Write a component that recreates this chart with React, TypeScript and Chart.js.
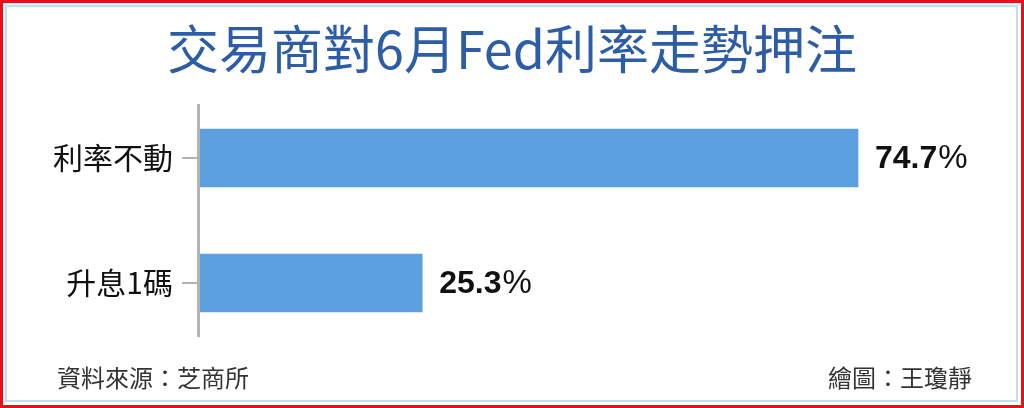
import { useEffect, useRef } from 'react';
import { Chart, registerables } from 'chart.js';
import type { Plugin } from 'chart.js';

Chart.register(...registerables);

const categories = ['利率不動', '升息1碼'];
const probabilities = [74.7, 25.3];
const xMax = 90;

const CJK_FONT = '"Noto Sans CJK TC", "Noto Sans", sans-serif';
const BAR_COLOR = '#5ca0df';
const AXIS_COLOR = '#b3b3b3';

// axis line + value labels drawn after the bars
const axisAndLabels: Plugin<'bar'> = {
  id: 'axisAndLabels',
  afterDatasetsDraw(chart) {
    const { ctx, chartArea } = chart;
    ctx.save();
    ctx.strokeStyle = AXIS_COLOR;
    ctx.lineWidth = 3;
    ctx.beginPath();
    ctx.moveTo(chartArea.left - 0.5, 104);
    ctx.lineTo(chartArea.left - 0.5, 337);
    ctx.stroke();

    const meta = chart.getDatasetMeta(0);
    ctx.fillStyle = '#111';
    ctx.textBaseline = 'middle';
    ctx.textAlign = 'left';
    meta.data.forEach((bar, i) => {
      const num = probabilities[i].toFixed(1);
      const x = bar.x + 17;
      const y = bar.y + 1;
      ctx.font = 'bold 32px "Liberation Sans", Arial, sans-serif';
      ctx.fillText(num, x, y);
      const w = ctx.measureText(num).width;
      ctx.font = '33px "Liberation Sans", Arial, sans-serif';
      ctx.fillText('%', x + w + 1, y);
    });
    ctx.restore();
  },
};

function FedBetChart() {
  const canvasRef = useRef<HTMLCanvasElement>(null);

  useEffect(() => {
    if (!canvasRef.current) return;
    const ctx = canvasRef.current.getContext('2d');
    if (!ctx) return;

    const chart = new Chart(ctx, {
      type: 'bar',
      data: {
        labels: categories,
        datasets: [{
          data: probabilities,
          backgroundColor: BAR_COLOR,
          borderWidth: 0,
          barThickness: 58,
        }],
      },
      options: {
        indexAxis: 'y',
        animation: false,
        responsive: true,
        maintainAspectRatio: false,
        layout: { padding: { top: 95.5, bottom: 62.5, left: 0, right: 31 } },
        plugins: {
          legend: { display: false },
          tooltip: { enabled: false },
        },
        scales: {
          x: { display: false, min: 0, max: xMax },
          y: {
            afterFit: (scale) => { scale.width = 199; },
            border: { display: false },
            grid: {
              offset: false,
              drawOnChartArea: false,
              drawTicks: true,
              tickLength: 17,
              color: AXIS_COLOR,
              lineWidth: 2,
            },
            ticks: {
              padding: 9,
              color: '#111',
              font: { family: CJK_FONT, size: 30 },
            },
          },
        },
      },
      plugins: [axisAndLabels],
    });

    return () => chart.destroy();
  }, []);

  return <canvas ref={canvasRef}></canvas>;
}

export default function App() {
  return (
    <div style={{ position: 'relative', width: 1024, height: 408, background: '#fff', overflow: 'hidden' }}>
      <style>{'body{margin:0}'}</style>
      <div style={{ position: 'absolute', inset: 0, border: '3px solid #e8101a' }} />
      <div style={{ position: 'absolute', left: 5, top: 5, right: 6, bottom: 6, border: '2px solid #c4dcf3' }} />
      <div style={{
        position: 'absolute', left: 0, right: 0, top: 21, textAlign: 'center',
        fontFamily: CJK_FONT, fontSize: 52, lineHeight: 1, fontWeight: 400, color: '#2d5da6',
      }}>交易商對6月Fed利率走勢押注</div>
      <div style={{ position: 'absolute', left: 0, top: 0, width: 1024, height: 408 }}>
        <FedBetChart />
      </div>
      <div style={{
        position: 'absolute', left: 57, top: 365, fontFamily: CJK_FONT, fontSize: 24,
        lineHeight: 1, color: '#333',
      }}>資料來源：芝商所</div>
      <div style={{
        position: 'absolute', right: 52, top: 365, fontFamily: CJK_FONT, fontSize: 24,
        lineHeight: 1, color: '#333',
      }}>繪圖：王瓊靜</div>
    </div>
  );
}
